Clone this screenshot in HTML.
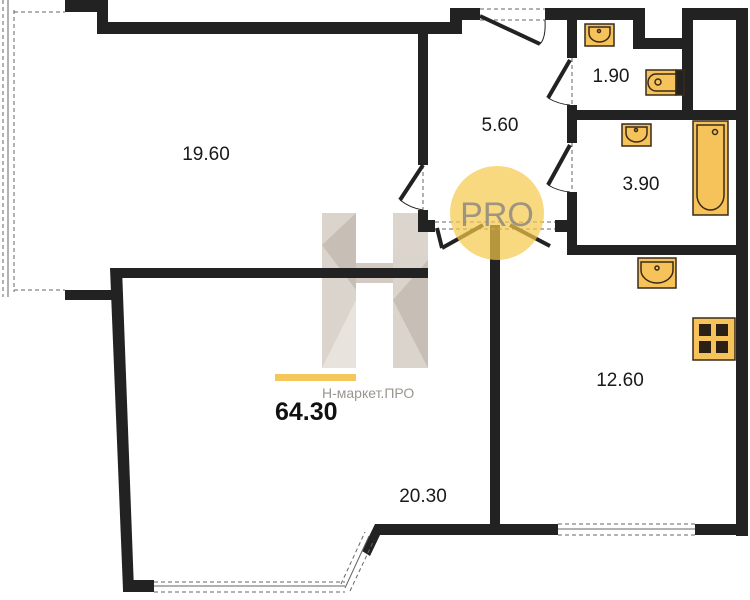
<!DOCTYPE html>
<html><head><meta charset="utf-8"><style>
html,body{margin:0;padding:0;background:#fff;}
svg{display:block;}
text{font-family:"Liberation Sans",sans-serif;}
</style></head><body>
<svg width="750" height="600" viewBox="0 0 750 600" xmlns="http://www.w3.org/2000/svg">
<g opacity="0.9">
<rect x="322" y="213" width="34" height="155" fill="#d8d0c8"/>
<rect x="393" y="213" width="35" height="155" fill="#d8d0c8"/>
<polygon points="322,245 356,213 356,290" fill="#c2b8ad"/>
<polygon points="393,300 428,260 428,368" fill="#c2b8ad"/>
<polygon points="322,368 356,300 356,368" fill="#e6e0da"/>
<rect x="356" y="263" width="37" height="20" fill="#cfc6bc"/>
</g>
<g fill="#222">
<rect x="65" y="0" width="43" height="12"/>
<rect x="97" y="0" width="11" height="34"/>
<rect x="97" y="22" width="365" height="12"/>
<rect x="450" y="8" width="12" height="26"/>
<rect x="450" y="8" width="30" height="12"/>
<rect x="545" y="8" width="100" height="12"/>
<rect x="633" y="8" width="12" height="40"/>
<rect x="633" y="38" width="60" height="11"/>
<rect x="682" y="8" width="11" height="103"/>
<rect x="682" y="8" width="64" height="12"/>
<rect x="736" y="8" width="12" height="528"/>
<rect x="418" y="22" width="10" height="143"/>
<rect x="418" y="210" width="10" height="22"/>
<rect x="418" y="220" width="17" height="12"/>
<rect x="555" y="220" width="22" height="12"/>
<rect x="567" y="8" width="10" height="50"/>
<rect x="567" y="105" width="10" height="38"/>
<rect x="567" y="192" width="10" height="63"/>
<rect x="567" y="110" width="179" height="10"/>
<rect x="567" y="245" width="179" height="10"/>
<rect x="490" y="225" width="10" height="300"/>
<rect x="113" y="268" width="315" height="10"/>
<rect x="65" y="290" width="50" height="10"/>
<polygon points="110,268 122,268 134,590 123,590"/>
<rect x="123" y="580" width="31" height="12"/>
<polygon points="375,524 558,524 558,535 380,535 370,556 362,551"/>
<rect x="695" y="524" width="53" height="11"/>
</g>
<g fill="none" stroke="#666" stroke-width="1">
<line x1="3" y1="0" x2="3" y2="297" stroke-dasharray="4,3"/>
<line x1="8" y1="0" x2="8" y2="297"/>
<line x1="14" y1="10" x2="14" y2="292" stroke-dasharray="4,3"/>
<line x1="14" y1="12" x2="65" y2="12" stroke-dasharray="4,3"/>
<line x1="14" y1="290" x2="65" y2="290" stroke-dasharray="4,3"/>
<line x1="154" y1="582" x2="345" y2="582" stroke-dasharray="4,3"/>
<line x1="154" y1="586" x2="345" y2="586"/>
<line x1="154" y1="592" x2="345" y2="592" stroke-dasharray="4,3"/>
<line x1="341" y1="584" x2="365" y2="532" stroke-dasharray="4,3"/>
<line x1="345" y1="588" x2="369" y2="536"/>
<line x1="350" y1="591" x2="374" y2="540" stroke-dasharray="4,3"/>
<line x1="558" y1="524" x2="695" y2="524" stroke-dasharray="4,3"/>
<line x1="558" y1="529" x2="695" y2="529"/>
<line x1="558" y1="535" x2="695" y2="535" stroke-dasharray="4,3"/>
<line x1="480" y1="9" x2="545" y2="9" stroke-dasharray="4,3"/>
<line x1="480" y1="20" x2="545" y2="20" stroke-dasharray="4,3"/>
<line x1="423" y1="165" x2="423" y2="210" stroke-dasharray="4,3"/>
<line x1="572" y1="58" x2="572" y2="105" stroke-dasharray="4,3"/>
<line x1="572" y1="143" x2="572" y2="192" stroke-dasharray="4,3"/>
<line x1="435" y1="222" x2="555" y2="222" stroke-dasharray="4,3"/>
<line x1="435" y1="229" x2="555" y2="229" stroke-dasharray="4,3"/>
</g>
<g stroke="#222" stroke-width="4" fill="none">
<line x1="480" y1="16" x2="540" y2="44"/>
<line x1="423" y1="165" x2="400" y2="200"/>
<line x1="570" y1="60" x2="548" y2="98"/>
<line x1="570" y1="145" x2="548" y2="185"/>
<line x1="437" y1="228" x2="442" y2="248"/>
<line x1="483" y1="225" x2="442" y2="248"/>
<line x1="510" y1="225" x2="550" y2="246"/>
</g>
<g stroke="#222" stroke-width="1" fill="none">
<path d="M545,20 Q546,38 540,44"/>
<path d="M400,200 Q410,208 423,210"/>
<path d="M548,98 Q558,104 570,105"/>
<path d="M548,185 Q558,191 570,192"/>
</g>
<circle cx="497" cy="213" r="47" fill="#f7c94a" opacity="0.7"/>
<text x="497" y="226" text-anchor="middle" font-size="34" fill="#8f8a80" opacity="0.85">PRO</text>
<g stroke="#3a2a1a" stroke-width="1.5">
<rect x="585" y="24" width="29" height="22" fill="#f5c35a"/>
<path d="M589,27 h21 v6 a10.5,9 0 0 1 -21,0z" fill="#f5c35a"/>
<circle cx="599" cy="31" r="1.5" fill="none"/>
<rect x="646" y="70" width="30" height="25" fill="#f5c35a"/>
<path d="M676,74 h-20 a8,8.5 0 0 0 0,17 h20" fill="none"/>
<circle cx="658" cy="82" r="3" fill="none"/>
<rect x="676" y="70" width="8" height="25" fill="#222"/>
<rect x="622" y="124" width="29" height="22" fill="#f5c35a"/>
<path d="M626,127 h21 v6 a10.5,9 0 0 1 -21,0z" fill="#f5c35a"/>
<circle cx="636" cy="130" r="1.5" fill="none"/>
<rect x="693" y="121" width="35" height="94" fill="#f5c35a"/>
<path d="M697,125 h27 v70 a13.5,15 0 0 1 -27,0z" fill="#f5c35a"/>
<circle cx="715" cy="132" r="2.5" fill="none"/>
<rect x="638" y="258" width="38" height="30" fill="#f5c35a"/>
<path d="M641,262 h32 v8 a16,13 0 0 1 -32,0z" fill="#f5c35a"/>
<circle cx="657" cy="268" r="2" fill="none"/>
<rect x="693" y="318" width="42" height="42" fill="#f5c35a"/>
</g>
<g fill="#2a2016">
<rect x="699" y="324" width="12" height="12"/><rect x="716" y="324" width="12" height="12"/>
<rect x="699" y="341" width="12" height="12"/><rect x="716" y="341" width="12" height="12"/>
</g>
<g font-size="19" fill="#1a1a1a" text-anchor="middle">
<text x="206" y="160">19.60</text>
<text x="500" y="131">5.60</text>
<text x="611" y="82">1.90</text>
<text x="641" y="190">3.90</text>
<text x="620" y="386">12.60</text>
<text x="423" y="502">20.30</text>
</g>
<rect x="275" y="374" width="81" height="7" fill="#f5c75a"/>
<text x="322" y="398" font-size="14" fill="#9a968f">Н-маркет.ПРО</text>
<text x="275" y="420" font-size="25" font-weight="bold" fill="#111">64.30</text>
</svg>
</body></html>
